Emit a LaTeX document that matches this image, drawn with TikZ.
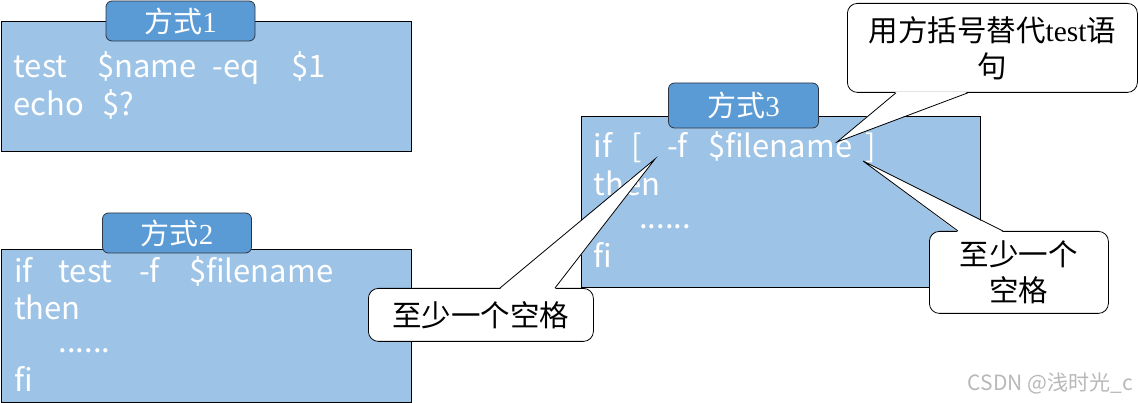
\documentclass[tikz,border=0pt]{standalone}
\usepackage{fontspec}
\setmainfont{Liberation Serif}
\newfontfamily\cjk{Noto Sans CJK SC}
\definecolor{boxblue}{HTML}{9DC3E6}
\definecolor{tabblue}{HTML}{5B9BD5}
\definecolor{tabline}{HTML}{2E3440}
\newcommand\cw[2]{\makebox[#1][l]{#2}}
\begin{document}
\begin{tikzpicture}[x=1pt,y=-1pt,
  codebox/.style={draw=black,line width=0.8pt,fill=boxblue,anchor=north west,inner sep=0pt},
  tabbox/.style={draw=tabline,line width=0.8pt,fill=tabblue,rounded corners=6pt,text=white,
     font=\cjk\fontsize{29}{32}\selectfont,inner sep=0pt},
  codeline/.style={text=white,font=\cjk\fontsize{31}{34}\selectfont,anchor=west,inner sep=0pt},
  callbox/.style={draw=black,line width=0.8pt,fill=white,rounded corners=10pt,inner sep=0pt,
     align=center,font=\cjk\fontsize{29.5}{36}\selectfont},
  calltip/.style={fill=white},
  callside/.style={draw=black,line width=0.8pt,line join=miter}
]
\useasboundingbox (0,0) rectangle (1138,403);

% boxes
\node[codebox,minimum width=410pt,minimum height=130pt] (b1) at (0.5,21) {};
\node[codebox,minimum width=410pt,minimum height=153pt] (b2) at (0.5,249) {};
\node[codebox,minimum width=399pt,minimum height=171pt] (b3) at (581,116) {};

% tabs
\node[tabbox,minimum width=149pt,minimum height=40pt] (t1) at (180.5,21) {方式{\rmfamily 1}};
\node[tabbox,minimum width=149pt,minimum height=40pt] (t2) at (177,233) {方式{\rmfamily 2}};
\node[tabbox,minimum width=150pt,minimum height=45pt] (t3) at (743.5,105.5) {方式{\rmfamily 3}};

% code text box 1
\node[codeline] (l11) at (13.5,68) {\cw{83.4pt}{test}\cw{115.6pt}{\$name}\cw{78.4pt}{-eq}\$1};
\node[codeline] (l12) at (13.5,104) {\cw{88.4pt}{echo}\$?};
% code text box 2
\node[codeline] (l21) at (14,271) {\cw{44.5pt}{if}\cw{80.5pt}{test}\cw{50pt}{-f}\$filename};
\node[codeline] (l22) at (14,307) {then};
\node[codeline] (l23) at (58.5,351) {......};
\node[codeline] (l24) at (14,379) {fi};
% code text box 3
\node[codeline] (l31) at (593.5,147) {\cw{37.5pt}{if}\cw{36pt}{[}\cw{41pt}{-f}\cw{157pt}{\$filename}]};
\node[codeline] (l32) at (593.5,183) {then};
\node[codeline] (l33) at (639,227) {......};
\node[codeline] (l34) at (593.5,255) {fi};

% callout: top
\node[callbox,minimum width=290pt,minimum height=89pt,anchor=north west] (c1) at (847,3)
  {用方括号替代{\rmfamily test}语\\句};
\coordinate (c1tip) at (837,142);
\fill[calltip] ([yshift=1pt]896,0 |- c1.south) -- (c1tip) -- ([yshift=1pt]968,0 |- c1.south) -- cycle;
\draw[callside] (896,0 |- c1.south) -- (c1tip) -- (968,0 |- c1.south);

% callout: left
\node[callbox,minimum width=225pt,minimum height=53pt,anchor=north west] (c2) at (368,288)
  {至少一个空格};
\coordinate (c2tip) at (655,159);
\fill[calltip] ([yshift=-1pt]500,0 |- c2.north) -- (c2tip) -- ([yshift=-1pt]555,0 |- c2.north) -- cycle;
\draw[callside] (500,0 |- c2.north) -- (c2tip) -- (555,0 |- c2.north);

% callout: right
\node[callbox,minimum width=179pt,minimum height=82pt,anchor=north west] (c3) at (929,231)
  {至少一个\\空格};
\coordinate (c3tip) at (863,161);
\fill[calltip] ([yshift=-1pt]958,0 |- c3.north) -- (c3tip) -- ([yshift=-1pt]1003,0 |- c3.north) -- cycle;
\draw[callside] (958,0 |- c3.north) -- (c3tip) -- (1003,0 |- c3.north);

% watermark
\node[text=black!28,font=\cjk\fontsize{21}{24}\selectfont,anchor=east,inner sep=0pt] (wm) at (1133,383) {CSDN @浅时光\_c};
\end{tikzpicture}
\end{document}
